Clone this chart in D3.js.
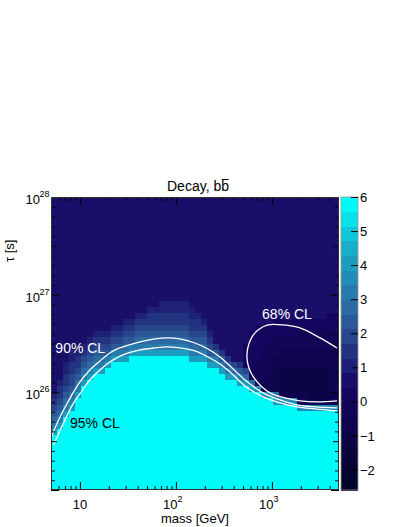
<!DOCTYPE html>
<html><head><meta charset="utf-8">
<script src="https://cdn.jsdelivr.net/npm/d3@7/dist/d3.min.js"></script>
<style>
body{margin:0;background:#fff}
svg{display:block}
text{font-family:"Liberation Sans",Arial,Helvetica,sans-serif}
</style>
</head><body>
<svg id="c" width="407" height="527"></svg>
<script>
// ---------------- data ----------------
const massRange = [5, 5000];          // GeV
const tauRange = [1e25, 1e28];        // s
const zRange = [-2.6, 6];
const zBands = 20;
const zTicks = [-2, -1, 0, 1, 2, 3, 4, 5, 6];
const massMajorTicks = [10, 100, 1000];
const massMinorTicks = [6,7,8,9,20,30,40,50,60,70,80,90,200,300,400,500,600,700,800,900,2000,3000,4000];
const massTickLabels = [{v:10, base:"10", exp:""}, {v:100, base:"10", exp:"2"}, {v:1000, base:"10", exp:"3"}];
const tauTickLabels = [{v:1e26, base:"10", exp:"26"}, {v:1e27, base:"10", exp:"27"}, {v:1e28, base:"10", exp:"28"}];

// cell value codes
const codeValues = {".":0.6, "1":1.05, "2":1.5, "3":1.9, "4":2.35, "5":2.8, "6":3.2, "7":3.6, "8":4.1, "9":4.9,
  "C":6.5, "-":0.2, "=":-0.25, "#":-0.65, "%":-1.1};
// run-length encoded map columns (low mass -> high mass), each from top (tau=1e28) to bottom (tau=1e25)
const zColumns = [
 "32*.|1234568|9*C",
 "30*.|12234568|10*C",
 "27*.|112234568|12*C",
 "25*.|1122334568|13*C",
 "25*.|12234568|15*C",
 "24*.|1234568|17*C",
 "23*.|1234568|18*C",
 "22*.|1234568|19*C",
 "22*.|1234568|19*C",
 "22*.|123468|20*C",
 "21*.|123468|21*C",
 "21*.|123468|21*C",
 "20*.|1234568|21*C",
 "20*.|123468|22*C",
 "19*.|1234568|22*C",
 "19*.|1234568|22*C",
 "18*.|12234568|22*C",
 "18*.|12234568|22*C",
 "17*.|112234568|22*C",
 "17*.|112234568|22*C",
 "17*.|112234568|22*C",
 "17*.|112234568|22*C",
 "17*.|112234568|22*C",
 "18*.|112234568|21*C",
 "19*.|12234568|21*C",
 "20*.|1234568|21*C",
 "22*.|123468|20*C",
 "24*.|2468|20*C",
 "25*.|2468|19*C",
 "26*.|2468|18*C",
 "27*.|358|18*C",
 "27*.|2468|17*C",
 "24*.|4*-|358|17*C",
 "22*.|6*-|2*=|58|16*C",
 "21*.|6*-|4*=|7|16*C",
 "21*.|4*-|5*=|2*#|7|15*C",
 "21*.|3*-|5*=|3*#|7|15*C",
 "20*.|3*-|3*=|6*#|58|14*C",
 "20*.|3*-|2*=|8*#|7|14*C",
 "20*.|3*-|2*=|3*#|4*%|#|7|14*C",
 "20*.|3*-|2*=|3*#|4*%|#|7|14*C",
 "20*.|2*-|3*=|3*#|4*%|2*#|7|13*C",
 "20*.|2*-|3*=|3*#|4*%|2*#|7|13*C",
 "20*.|2*-|3*=|3*#|5*%|#|7|13*C",
 "20*.|2*-|3*=|3*#|5*%|#|7|13*C",
 "20*.|2*-|3*=|3*#|5*%|#|7|13*C",
 "19*.|3*-|3*=|8*#|=|7|13*C",
 "19*.|3*-|3*=|8*#|=|7|13*C"
];

// contours (mass GeV, tau s)
const cl90Mass = [5.06,5.51,6.51,7.52,8.48,10.0,12.7,16.2,19.2,23.2,28.1,42.3,60.6,80.8,110,158,216,288,366,525,808,1215,1826,2812,4764];
const cl90Tau  = [3.50e25,4.32e25,6.15e25,7.98e25,9.86e25,1.278e26,1.696e26,2.096e26,2.415e26,2.716e26,2.915e26,3.28e26,3.52e26,3.61e26,3.52e26,3.20e26,2.78e26,2.30e26,1.863e26,1.34e26,9.86e25,8.36e25,7.43e25,7.09e25,6.92e25];
const cl95Mass = [5.31,5.91,6.99,8.48,10.0,12.7,16.2,19.2,23.2,28.1,42.3,60.6,80.8,110,158,216,288,366,525,808,1215,1826,2812,4764];
const cl95Tau  = [2.89e25,3.66e25,5.22e25,7.61e25,9.63e25,1.339e26,1.696e26,1.953e26,2.198e26,2.415e26,2.716e26,2.847e26,2.915e26,2.847e26,2.653e26,2.30e26,1.953e26,1.618e26,1.163e26,8.97e25,7.79e25,7.09e25,6.76e25,6.45e25];
const cl68Mass = [4764,3170,1962,1305,911,717,621,564,550,577,651,789,1002,1369,1962,3022,4764];
const cl68Tau  = [2.847e26,3.61e26,4.56e26,4.90e26,4.90e26,4.35e26,3.69e26,2.915e26,2.25e26,1.778e26,1.405e26,1.136e26,9.63e25,8.76e25,8.17e25,7.98e25,8.17e25];

const clLabels = [
  {text:"90% CL", mass:5.55, tau:2.53e26, color:"#ffffff"},
  {text:"95% CL", mass:7.89, tau:4.32e25, color:"#000000"},
  {text:"68% CL", mass:790, tau:5.64e26, color:"#ffffff"}
];
const titleMain = "Decay, b";
const titleBar = "b";
const xTitle = "mass [GeV]";
const yTitle = "\u03c4 [s]";

// ---------------- drawing ----------------
const frame = {l:51, r:339, t:197, b:490};
const cbar = {l:341, r:358};
const svg = d3.select("#c");
const x = d3.scaleLog().domain(massRange).range([frame.l, frame.r]);
const y = d3.scaleLog().domain(tauRange).range([frame.b, frame.t]);
const zy = d3.scaleLinear().domain(zRange).range([frame.b, frame.t]);

const pal = d3.scaleLinear().domain([0, 0.34, 0.61, 0.84, 1])
  .range(["rgb(0,3,43)", "rgb(23,5,99)", "rgb(46,99,158)", "rgb(23,173,201)", "rgb(0,250,250)"])
  .interpolate(d3.interpolateRgb);
const bandColors = d3.range(zBands).map(k => pal(k / (zBands - 1)));
const zColor = d3.scaleQuantize().domain(zRange).range(bandColors);

function decode(s) {
  return s.split("|").map(seg => {
    const m = seg.match(/^(\d+)\*(.)$/);
    return m ? m[2].repeat(+m[1]) : seg;
  }).join("");
}
const cols = zColumns.map(decode);
const nCol = cols.length, nRow = cols[0].length;
const lx0 = Math.log10(massRange[0]), lx1 = Math.log10(massRange[1]);
const ly0 = Math.log10(tauRange[0]), ly1 = Math.log10(tauRange[1]);
const massEdge = i => Math.pow(10, lx0 + i * (lx1 - lx0) / nCol);
const tauEdge = j => Math.pow(10, ly1 - j * (ly1 - ly0) / nRow);
const cells = [];
cols.forEach((c, i) => { for (let j = 0; j < c.length; j++) cells.push({i, j, z: codeValues[c[j]]}); });

const defs = svg.append("defs");
defs.append("clipPath").attr("id", "clip").append("rect")
  .attr("x", frame.l).attr("y", frame.t).attr("width", frame.r - frame.l).attr("height", frame.b - frame.t);

const gMap = svg.append("g").attr("clip-path", "url(#clip)").attr("shape-rendering", "crispEdges");
gMap.selectAll("rect").data(cells).join("rect")
  .attr("x", d => x(massEdge(d.i)))
  .attr("width", d => x(massEdge(d.i + 1)) - x(massEdge(d.i)) + 0.6)
  .attr("y", d => y(tauEdge(d.j)))
  .attr("height", d => y(tauEdge(d.j + 1)) - y(tauEdge(d.j)) + 0.6)
  .attr("fill", d => zColor(d.z));

// contours
const line = d3.line().x(d => x(d[0])).y(d => y(d[1])).curve(d3.curveCatmullRom.alpha(0.5));
const gC = svg.append("g").attr("clip-path", "url(#clip)");
[[cl90Mass, cl90Tau], [cl95Mass, cl95Tau], [cl68Mass, cl68Tau]].forEach(([m, t]) => {
  gC.append("path").attr("d", line(m.map((v, k) => [v, t[k]])))
    .attr("fill", "none").attr("stroke", "#fff").attr("stroke-width", 1.3);
});
clLabels.forEach(l => {
  svg.append("text").attr("x", x(l.mass)).attr("y", y(l.tau)).attr("fill", l.color)
    .attr("font-size", 14).text(l.text);
});

// axes ticks
function tickAxis(axis, transform, vals, len) {
  const g = svg.append("g").attr("transform", transform)
    .call(axis.tickValues(vals).tickSizeInner(-len).tickSizeOuter(0).tickFormat(""));
  g.select(".domain").remove();
  g.selectAll("line").attr("stroke", "#000").attr("stroke-width", 1);
}
tickAxis(d3.axisBottom(x), `translate(0,${frame.b})`, massMajorTicks, 8);
tickAxis(d3.axisBottom(x), `translate(0,${frame.b})`, massMinorTicks, 4);
tickAxis(d3.axisTop(x), `translate(0,${frame.t})`, massMajorTicks, 8);
tickAxis(d3.axisTop(x), `translate(0,${frame.t})`, massMinorTicks, 4);
const tauMajor = [1e25, 1e26, 1e27, 1e28];
const tauHalf = [25.5, 26.5, 27.5].map(e => Math.pow(10, e));
const tauMinor = [];
[25, 26, 27].forEach(d => [1,2,3,4,6,7,8,9].forEach(k => tauMinor.push(Math.pow(10, d + k / 10))));
tickAxis(d3.axisLeft(y), `translate(${frame.l},0)`, tauMajor, 8);
tickAxis(d3.axisLeft(y), `translate(${frame.l},0)`, tauHalf, 6);
tickAxis(d3.axisLeft(y), `translate(${frame.l},0)`, tauMinor, 4);
tickAxis(d3.axisRight(y), `translate(${frame.r},0)`, tauMajor, 8);
tickAxis(d3.axisRight(y), `translate(${frame.r},0)`, tauHalf, 6);
tickAxis(d3.axisRight(y), `translate(${frame.r},0)`, tauMinor, 4);

// frame
svg.append("rect").attr("x", frame.l + 0.5).attr("y", frame.t + 0.5)
  .attr("width", frame.r - frame.l - 1).attr("height", frame.b - frame.t - 1)
  .attr("fill", "none").attr("stroke", "#333").attr("stroke-width", 1);

// tick labels
massTickLabels.forEach(t => {
  const px = x(t.v);
  if (!t.exp) {
    svg.append("text").attr("x", px).attr("y", 508.5).attr("text-anchor", "middle").attr("font-size", 13).text(t.base);
  } else {
    svg.append("text").attr("x", px + 1.5).attr("y", 508.5).attr("text-anchor", "end").attr("font-size", 13).text(t.base);
    svg.append("text").attr("x", px + 1.5).attr("y", 501.5).attr("font-size", 9).text(t.exp);
  }
});
tauTickLabels.forEach(t => {
  const py = y(t.v);
  svg.append("text").attr("x", 40).attr("y", py + 7).attr("text-anchor", "end").attr("font-size", 13).text(t.base);
  svg.append("text").attr("x", 39.5).attr("y", py).attr("font-size", 9).text(t.exp);
});

// titles
svg.append("text").attr("x", 195).attr("y", 522.5).attr("text-anchor", "middle").attr("font-size", 13).text(xTitle);
svg.append("text").attr("transform", `translate(14,262) rotate(-90)`).attr("text-anchor", "start")
  .attr("font-size", 13).text(yTitle);
const tt = svg.append("text").attr("x", 167).attr("y", 191).attr("font-size", 14);
tt.append("tspan").text(titleMain);
const bar = tt.append("tspan").text(titleBar);
const tl = tt.node().getComputedTextLength();
const bl = bar.node().getComputedTextLength();
svg.append("line").attr("x1", 167 + tl - bl + 0.5).attr("x2", 167 + tl - 0.5)
  .attr("y1", 179.5).attr("y2", 179.5).attr("stroke", "#000").attr("stroke-width", 1);

// colour bar
const bandEdges = d3.range(zBands + 1).map(k => zRange[0] + k * (zRange[1] - zRange[0]) / zBands);
svg.append("g").attr("shape-rendering", "crispEdges").selectAll("rect").data(d3.range(zBands)).join("rect")
  .attr("x", cbar.l).attr("width", cbar.r - cbar.l)
  .attr("y", k => zy(bandEdges[k + 1])).attr("height", k => zy(bandEdges[k]) - zy(bandEdges[k + 1]) + 0.5)
  .attr("fill", k => bandColors[k]);
svg.append("rect").attr("x", cbar.l).attr("y", frame.t).attr("width", cbar.r - cbar.l).attr("height", frame.b - frame.t)
  .attr("fill", "none").attr("stroke", "#999").attr("stroke-width", 0.8);
const gz = svg.append("g").attr("transform", `translate(${cbar.r},0)`)
  .call(d3.axisRight(zy).tickValues(zTicks).tickSizeInner(-7).tickSizeOuter(0).tickPadding(10).tickFormat(d3.format("d")));
gz.select(".domain").remove();
gz.selectAll("line").attr("stroke", "#000");
gz.selectAll("text").attr("font-size", 13).attr("font-family", '"Liberation Sans",Arial,sans-serif').attr("x", 2).attr("dy", "0.35em");
</script>
</body></html>
